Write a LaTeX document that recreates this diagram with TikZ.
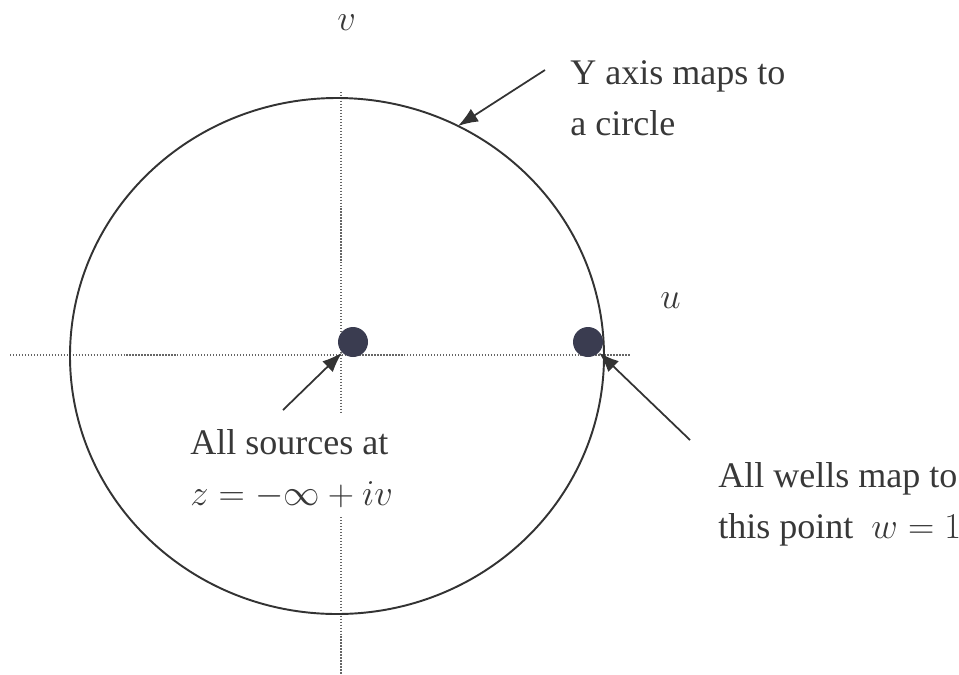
\documentclass[tikz,border=0pt]{standalone}
\usepackage{fontspec}
\setmainfont{Liberation Serif}
\usetikzlibrary{arrows.meta}
\definecolor{poleink}{RGB}{58,60,80}

\begin{document}
\begin{tikzpicture}[
  x=0.02cm, y=-0.02cm,
  font=\fontsize{20.5}{28.5}\selectfont,
  lbl/.style={anchor=base west, align=left, text=black!78, inner sep=0pt},
  axis/.style={densely dotted, black!60, line width=0.7pt},
  pole/.style={circle, fill=poleink, minimum size=0.6cm, inner sep=0pt},
  ar/.style={-{Latex[length=4mm, width=3mm]}, line width=1pt, black!80}
]
\useasboundingbox (0,0) rectangle (959,674);
% axes of the w plane
\draw[axis] (10,355) -- (630,355);
\draw[axis] (341,92) -- (341,412);
\draw[axis] (341,517) -- (341,674);
\node[lbl] (vlab) at (337,30) {$v$};
\node[lbl] (ulab) at (660,308) {$u$};
% image of the y axis
\draw[black!80, line width=1.1pt] (337,356) ellipse [x radius=267, y radius=258];
\node[pole] (src)  at (353,342) {};
\node[pole] (well) at (588,342) {};
% labels and arrows (base = last line)
\node[lbl] (circtxt) at (570,135) {Y axis maps to\\a circle};
\node[lbl] (srctxt)  at (190,505) {All sources at\\$z=-\infty+iv$};
\node[lbl] (welltxt) at (718,538) {All wells map to\\this point \ $w=1$};
\coordinate (circtail) at (545,70);
\coordinate (circhit)  at (458,126);
\coordinate (srctail)  at (283,410);
\coordinate (welltail) at (690,440);
\draw[ar] (circtail) -- (circhit);
\draw[ar] (srctail) -- (src);
\draw[ar] (welltail) -- (well);
\end{tikzpicture}
\end{document}
